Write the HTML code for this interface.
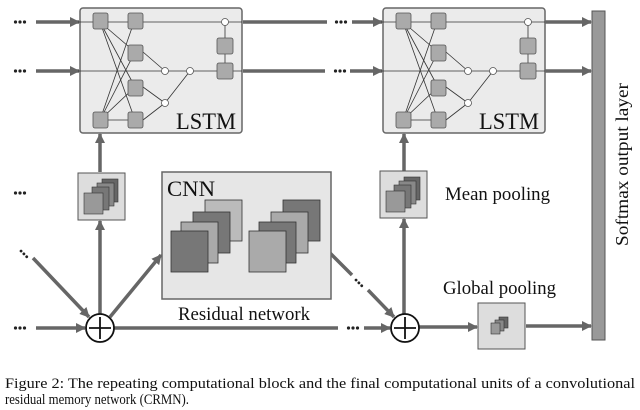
<!DOCTYPE html>
<html><head><meta charset="utf-8"><style>html,body{margin:0;padding:0;background:#fff}svg{display:block;font-family:"Liberation Serif",serif}</style></head>
<body>
<svg width="640" height="410" viewBox="0 0 640 410" xmlns="http://www.w3.org/2000/svg" font-family="'Liberation Serif', serif">
<defs>
<marker id="ah" markerWidth="10" markerHeight="10" refX="9" refY="5" orient="auto" markerUnits="userSpaceOnUse"><path d="M0,0 L10,5 L0,10 z" fill="#666"/></marker>
<g id="lstm">
  <rect x="0" y="0" width="162" height="125" rx="3" fill="#ebebeb" stroke="#666" stroke-width="1.5"/>
  <g stroke="#333" stroke-width="0.8" fill="none">
    <line x1="-2" y1="14" x2="162" y2="14"/>
    <line x1="-2" y1="63" x2="162" y2="63"/>
    <line x1="20" y1="14" x2="55" y2="44"/><line x1="20" y1="14" x2="55" y2="79"/><line x1="20" y1="14" x2="55" y2="112"/>
    <line x1="20" y1="112" x2="55" y2="11"/><line x1="20" y1="112" x2="55" y2="44"/><line x1="20" y1="112" x2="55" y2="79"/><line x1="20" y1="112" x2="55" y2="112"/>
    <line x1="63" y1="44" x2="85" y2="63"/><line x1="63" y1="79" x2="85" y2="95"/><line x1="63" y1="112" x2="85" y2="95"/>
    <line x1="85" y1="95" x2="110" y2="63"/>
    <line x1="145" y1="55" x2="145" y2="14"/>
  </g>
  <g fill="#aaa" stroke="#555" stroke-width="0.8">
    <rect x="13" y="5" width="15" height="16" rx="2"/><rect x="13" y="104" width="15" height="16" rx="2"/>
    <rect x="48" y="5" width="15" height="16" rx="2"/><rect x="48" y="37" width="15" height="16" rx="2"/>
    <rect x="48" y="72" width="15" height="16" rx="2"/><rect x="48" y="104" width="15" height="16" rx="2"/>
    <rect x="137" y="30" width="16" height="16" rx="2"/><rect x="137" y="55" width="16" height="16" rx="2"/>
  </g>
  <g fill="#fff" stroke="#555" stroke-width="0.8">
    <circle cx="85" cy="63" r="3.5"/><circle cx="110" cy="63" r="3.5"/><circle cx="85" cy="95" r="3.5"/><circle cx="145" cy="14" r="3.5"/>
  </g>
  <text x="96" y="121" font-size="23" fill="#111" textLength="60" lengthAdjust="spacingAndGlyphs">LSTM</text>
</g>
<g id="stack1">
  <rect x="0" y="0" width="47" height="47" fill="#ddd" stroke="#555" stroke-width="1"/>
  <rect x="24" y="6" width="16" height="23" fill="#666" stroke="#333" stroke-width="0.6"/>
  <rect x="19" y="10" width="17" height="23" fill="#888" stroke="#333" stroke-width="0.6"/>
  <rect x="14" y="14" width="17" height="23" fill="#777" stroke="#333" stroke-width="0.6"/>
  <rect x="6" y="20" width="19" height="21" fill="#999" stroke="#333" stroke-width="0.6"/>
</g>
</defs>

<g fill="#222">
  <g transform="translate(14 22)"><circle cx="1.5" cy="0" r="1.6"/><circle cx="6" cy="0" r="1.6"/><circle cx="10.5" cy="0" r="1.6"/></g>
  <g transform="translate(14 71)"><circle cx="1.5" cy="0" r="1.6"/><circle cx="6" cy="0" r="1.6"/><circle cx="10.5" cy="0" r="1.6"/></g>
  <g transform="translate(14 193)"><circle cx="1.5" cy="0" r="1.6"/><circle cx="6" cy="0" r="1.6"/><circle cx="10.5" cy="0" r="1.6"/></g>
  <g transform="translate(14 328)"><circle cx="1.5" cy="0" r="1.6"/><circle cx="6" cy="0" r="1.6"/><circle cx="10.5" cy="0" r="1.6"/></g>
  <g transform="translate(335 22)"><circle cx="1.5" cy="0" r="1.6"/><circle cx="6" cy="0" r="1.6"/><circle cx="10.5" cy="0" r="1.6"/></g>
  <g transform="translate(334 71)"><circle cx="1.5" cy="0" r="1.6"/><circle cx="6" cy="0" r="1.6"/><circle cx="10.5" cy="0" r="1.6"/></g>
  <g transform="translate(347 328)"><circle cx="1.5" cy="0" r="1.6"/><circle cx="6" cy="0" r="1.6"/><circle cx="10.5" cy="0" r="1.6"/></g>
  <g transform="translate(355 279) rotate(45)"><circle cx="1.5" cy="0" r="1.4"/><circle cx="5.5" cy="0" r="1.4"/><circle cx="9.5" cy="0" r="1.4"/></g>
  <g transform="translate(20 250) rotate(45)"><circle cx="1.5" cy="0" r="1.4"/><circle cx="5.5" cy="0" r="1.4"/><circle cx="9.5" cy="0" r="1.4"/></g>
</g>
<g stroke="#666" stroke-width="3.5" fill="none">
  <line x1="36" y1="22" x2="79" y2="22" marker-end="url(#ah)"/>
  <line x1="36" y1="71" x2="79" y2="71" marker-end="url(#ah)"/>
  <line x1="243" y1="22" x2="327" y2="22"/>
  <line x1="243" y1="71" x2="325" y2="71"/>
  <line x1="352" y1="22" x2="382" y2="22" marker-end="url(#ah)"/>
  <line x1="350" y1="71" x2="382" y2="71" marker-end="url(#ah)"/>
  <line x1="545" y1="22" x2="591" y2="22" marker-end="url(#ah)"/>
  <line x1="545" y1="71" x2="591" y2="71" marker-end="url(#ah)"/>
  <line x1="36" y1="328" x2="85" y2="328" marker-end="url(#ah)"/>
  <line x1="33" y1="258" x2="89" y2="317" marker-end="url(#ah)"/>
  <line x1="100" y1="314" x2="100" y2="221" marker-end="url(#ah)"/>
  <line x1="100" y1="172" x2="100" y2="134" marker-end="url(#ah)"/>
  <line x1="110" y1="317" x2="161" y2="255" marker-end="url(#ah)"/>
  <line x1="114" y1="328" x2="338" y2="328"/>
  <line x1="364" y1="328" x2="390" y2="328" marker-end="url(#ah)"/>
  <line x1="330" y1="253" x2="352" y2="275"/>
  <line x1="368" y1="290" x2="394" y2="317" marker-end="url(#ah)"/>
  <line x1="404" y1="314" x2="404" y2="219" marker-end="url(#ah)"/>
  <line x1="404" y1="171" x2="404" y2="134" marker-end="url(#ah)"/>
  <line x1="419" y1="327" x2="477" y2="327" marker-end="url(#ah)"/>
  <line x1="526" y1="326" x2="591" y2="326" marker-end="url(#ah)"/>
</g>

<use href="#lstm" x="80" y="8"/>
<use href="#lstm" x="383" y="8"/>

<rect x="592" y="11" width="13" height="329" fill="#999" stroke="#555" stroke-width="1"/>
<text x="0" y="0" font-size="18" fill="#111" transform="translate(628 246) rotate(-90)" textLength="163" lengthAdjust="spacingAndGlyphs">Softmax output layer</text>

<use href="#stack1" x="78" y="173"/>
<use href="#stack1" x="380" y="171"/>
<text x="445" y="200" font-size="18.5" fill="#111" textLength="105" lengthAdjust="spacingAndGlyphs">Mean pooling</text>

<rect x="162" y="172" width="169" height="127" fill="#e6e6e6" stroke="#666" stroke-width="1.5"/>
<text x="167" y="196" font-size="22" fill="#111" textLength="48" lengthAdjust="spacingAndGlyphs">CNN</text>
<g stroke="#333" stroke-width="0.8">
  <rect x="205" y="200" width="37" height="41" fill="#bbb"/>
  <rect x="193" y="212" width="37" height="41" fill="#777"/>
  <rect x="181" y="222" width="37" height="41" fill="#aaa"/>
  <rect x="171" y="231" width="37" height="41" fill="#777"/>
  <rect x="283" y="200" width="37" height="41" fill="#777"/>
  <rect x="271" y="212" width="37" height="41" fill="#aaa"/>
  <rect x="259" y="222" width="37" height="41" fill="#777"/>
  <rect x="249" y="231" width="37" height="41" fill="#aaa"/>
</g>
<text x="178" y="320" font-size="18.5" fill="#111" textLength="132" lengthAdjust="spacingAndGlyphs">Residual network</text>

<text x="443" y="294" font-size="18.5" fill="#111" textLength="113" lengthAdjust="spacingAndGlyphs">Global pooling</text>
<rect x="478" y="303" width="47" height="46" fill="#ddd" stroke="#555" stroke-width="1"/>
<g stroke="#333" stroke-width="0.6">
  <rect x="499" y="317" width="9" height="11" fill="#666"/>
  <rect x="495" y="320" width="9" height="11" fill="#888"/>
  <rect x="491" y="323" width="9" height="11" fill="#999"/>
</g>

<g fill="#fff" stroke="#111" stroke-width="1.8">
  <circle cx="100" cy="328" r="14"/><circle cx="405" cy="328" r="14"/>
  <line x1="89" y1="328" x2="111" y2="328"/><line x1="100" y1="317" x2="100" y2="339"/>
  <line x1="394" y1="328" x2="416" y2="328"/><line x1="405" y1="317" x2="405" y2="339"/>
</g>

<text x="5" y="388" font-size="14.5" fill="#111" textLength="630" lengthAdjust="spacingAndGlyphs">Figure 2: The repeating computational block and the final computational units of a convolutional</text>
<text x="5" y="404" font-size="14.5" fill="#111" textLength="184" lengthAdjust="spacingAndGlyphs">residual memory network (CRMN).</text>
</svg>
</body></html>
